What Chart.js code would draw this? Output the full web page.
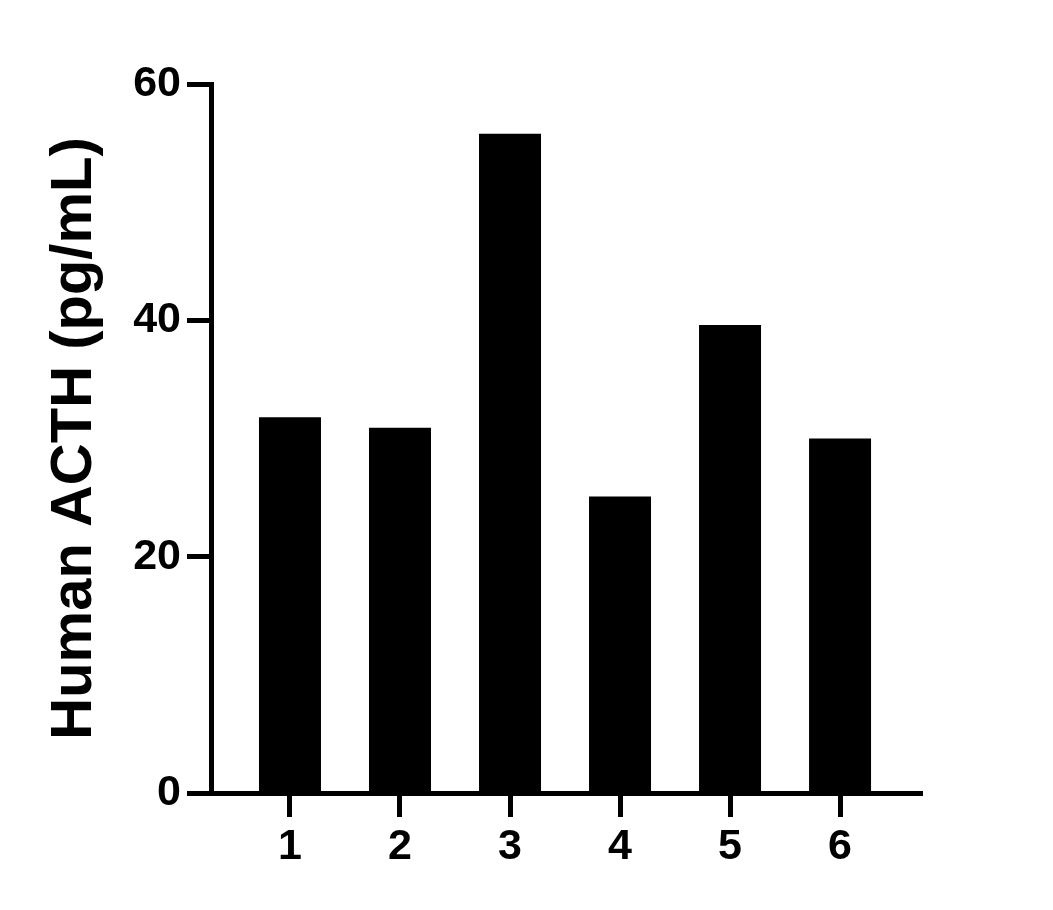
<!DOCTYPE html>
<html>
<head>
<meta charset="utf-8">
<script src="https://cdn.jsdelivr.net/npm/chart.js@4"></script>
<style>
html,body{margin:0;padding:0;background:#fff;}
#wrap{width:1053px;height:910px;}
</style>
</head>
<body>
<div id="wrap"><canvas id="c" width="1053" height="910"></canvas></div>
<script>
const categories = [1, 2, 3, 4, 5, 6];
const values = [31.8, 30.9, 55.8, 25.1, 39.6, 30.0];
const yTicks = [0, 20, 40, 60];
const yTitle = 'Human ACTH (pg/mL)';

const FONT = '"Liberation Sans", Arial, Helvetica, sans-serif';

new Chart(document.getElementById('c'), {
  type: 'bar',
  data: {
    datasets: [{
      data: categories.map((c, i) => ({x: c, y: values[i]})),
      backgroundColor: '#000',
      borderWidth: 0,
      barPercentage: 1,
      categoryPercentage: 0.5636
    }]
  },
  options: {
    responsive: false,
    animation: false,
    devicePixelRatio: 1,
    layout: {padding: {left: 0, right: 131, top: 84, bottom: 0}},
    plugins: {legend: {display: false}, tooltip: {enabled: false}},
    scales: {
      x: {
        type: 'linear',
        offset: false,
        min: 0.282,
        max: 6.745,
        afterBuildTicks: s => { s.ticks = categories.map(v => ({value: v})); },
        afterFit: s => { s.height = 117; },
        grid: {display: true, offset: false, drawOnChartArea: false, tickLength: 24, tickWidth: 5, tickColor: '#000'},
        border: {display: true, width: 5, color: '#000'},
        ticks: {color: '#000', font: {family: FONT, size: 43, weight: 'bold'}, padding: 4, maxRotation: 0, autoSkip: false,
          callback: v => String(v)}
      },
      y: {
        min: 0,
        max: 60,
        afterBuildTicks: s => { s.ticks = yTicks.map(v => ({value: v})); },
        afterFit: s => { s.width = 211; },
        grid: {display: true, drawOnChartArea: false, tickLength: 24, tickWidth: 5, tickColor: '#000'},
        border: {display: true, width: 5, color: '#000'},
        ticks: {color: '#000', font: {family: FONT, size: 43, weight: 'bold'}, padding: 6},
        title: {display: true, text: yTitle, color: '#000', font: {family: FONT, size: 58, weight: 'bold'}, padding: {top: 40, bottom: 0}}
      }
    }
  }
});
</script>
</body>
</html>
